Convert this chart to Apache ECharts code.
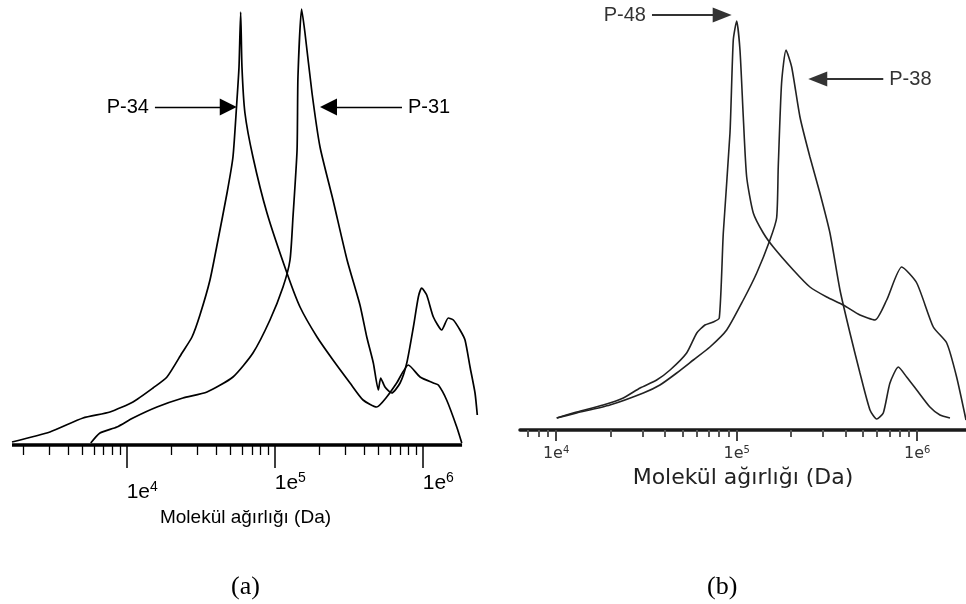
<!DOCTYPE html>
<html><head><meta charset="utf-8">
<script src="https://cdn.jsdelivr.net/npm/echarts@6/dist/echarts.min.js"></script>
<style>html,body{margin:0;padding:0;background:#fff}#c{width:966px;height:604px}</style>
</head><body><div id="c"></div>
<script>
// ---------- Panel (a) data: molecular weight (Da) vs detector signal (a.u.) ----------
const mwP34  = [1680,3030,5070,7710,11030,15060,18720,23650,27620,31260,36540,41400,47640,52250,55600,57400,58900,60100,62950,71300,88700,121000,148300,193200,247700,322800,395400,488300,571000,666800,799400,959800,1180000,1275000,1451000,1698000,1836000];
const sigP34 = [3,13,27,33,43,57,68,92,108,130,165,205,252,288,345,378,433,378,332,288,232,172,138,108,85,62,45,38,48,62,80,68,62,60,45,18,2];
const mwP31  = [5720,6600,8590,11030,16020,23990,34880,52250,71300,92900,113800,126900,132900,141600,143600,152000,160200,178700,202400,247700,308300,376700,418800,463800,501200,520000,556000,617600,703100,780400,864800,934100,984000,1064000,1180000,1344000,1488000,1610000,1786000,1931000,2088000,2256000,2337000];
const sigP31 = [2,12,18,27,38,47,53,68,92,125,158,185,228,295,368,436,412,352,298,245,185,140,108,82,55,67,58,52,62,82,118,148,157,150,128,115,127,125,115,105,78,52,30];
// ---------- Panel (b) data ----------
const mwP48  = [10080,13000,18240,23550,29170,36060,42770,52830,60130,66700,74130,80100,84310,91820,95760,100000,104300,108800,113600,123600,140400,159500,205800,254500,315100,389400,481600,583400,677300,820200,993400,1227000,1456000,1652000,1862000];
const sigP48 = [12,18,25,32,42,50,60,77,97,105,108,112,197,297,390,409,380,313,253,217,197,183,160,143,133,125,115,110,130,163,147,103,87,53,10];
const mwP38  = [10080,13000,19860,30410,37590,46550,57540,71100,88020,108800,129100,152800,166400,169900,177300,187600,201600,224100,254500,289000,328500,373300,424000,481600,547300,595700,648400,706000,785500,873700,993400,1175000,1336000,1518000];
const sigP38 = [12,17,25,37,45,57,70,83,100,130,157,190,212,263,347,380,363,313,273,237,197,140,97,57,20,11,17,47,63,53,40,23,15,12];
// ---------- Axes / ticks / labels ----------
const rangeA = [1680, 2400000];
const baselineA = [1680, 1844000];
const rangeB = [6310, 1862000];
const majorTicks = [10000, 100000, 1000000];
const minorTicksA = [2000,3000,4000,5000,6000,7000,8000,9000,20000,30000,40000,50000,60000,70000,80000,90000,200000,300000,400000,500000,600000,700000,800000,900000];
const minorTicksB = [7000,8000,9000,20000,30000,40000,50000,60000,70000,80000,90000,200000,300000,400000,500000,600000,700000,800000,900000];
const axisTitle = 'Molekül ağırlığı (Da)';
const captions = ['(a)', '(b)'];
const seriesNames = ['P-34', 'P-31', 'P-48', 'P-38'];
// arrow annotations: [from MW, to MW, signal level]
const arrowP34 = [15520, 48550, 338];
const arrowP31 = [724400, 231000, 338];
const arrowP48 = [33960, 83120, 415];
const arrowP38 = [648400, 281200, 351];

const zip = (xs, ys) => xs.map((x, i) => [x, ys[i]]);
const SANS = "'Liberation Sans', Arial, sans-serif";
const expOf = v => (v < 100 ? Math.round(v) : Math.round(Math.log10(v)));

function arrowMark(a, label, color, lw, fs, ff, sym) {
  return {
    silent: true, animation: false,
    symbol: ['none', 'triangle'], symbolSize: sym,
    lineStyle: { type: 'solid', color: color, width: lw },
    label: { show: true, position: 'start', formatter: label, color: color, fontSize: fs, fontFamily: ff, distance: 6 },
    emphasis: { disabled: true },
    data: [[{ coord: [a[0], a[2]] }, { coord: [a[1], a[2]] }]]
  };
}

const chart = echarts.init(document.getElementById('c'), null, { renderer: 'canvas' });
chart.setOption({
  animation: false,
  backgroundColor: '#fff',
  title: [
    { text: captions[0], left: 226, top: 569, textStyle: { fontFamily: "'Liberation Serif', serif", fontSize: 26, fontWeight: 'normal', color: '#000' } },
    { text: captions[1], left: 702, top: 569, textStyle: { fontFamily: "'Liberation Serif', serif", fontSize: 26, fontWeight: 'normal', color: '#000' } }
  ],
  grid: [
    { left: 12, top: 5, width: 467, height: 440, outerBoundsMode: 'none' },
    { left: 520, top: 5, width: 446, height: 425, outerBoundsMode: 'none' }
  ],
  xAxis: [
    { gridIndex: 0, position: 'bottom', type: 'log', min: rangeA[0], max: rangeA[1], axisLine: { show: false }, splitLine: { show: false },
      axisTick: { show: true, customValues: minorTicksA, length: 10, lineStyle: { color: '#000', width: 1.3 } },
      axisLabel: { show: false } },
    { gridIndex: 0, position: 'bottom', type: 'log', min: rangeA[0], max: rangeA[1], axisLine: { show: false }, splitLine: { show: false },
      axisTick: { show: true, customValues: majorTicks, length: 23, lineStyle: { color: '#000', width: 1.5 } },
      axisLabel: { show: true, customValues: majorTicks, align: 'left', margin: 26,
        formatter: v => { const e = expOf(v); return e === 4 ? '{g| }\n{b|1e}{s|' + e + '}' : '{b|1e}{s|' + e + '}'; },
        rich: {
          g: { fontSize: 8, lineHeight: 9 },
          b: { fontSize: 21, fontFamily: SANS, color: '#000', lineHeight: 25 },
          s: { fontSize: 14, fontFamily: SANS, color: '#000', lineHeight: 14, verticalAlign: 'top' }
        } },
      name: axisTitle, nameLocation: 'middle', nameGap: 61,
      nameTextStyle: { fontSize: 19, fontFamily: SANS, color: '#000', padding: [0, 0, 0, 0] } },
    { gridIndex: 1, position: 'bottom', type: 'log', min: rangeB[0], max: rangeB[1], splitLine: { show: false },
      axisLine: { show: true, lineStyle: { color: '#1a1a1a', width: 3.5 } },
      axisTick: { show: true, customValues: minorTicksB, length: 7, lineStyle: { color: '#555', width: 2 } },
      axisLabel: { show: false } },
    { gridIndex: 1, position: 'bottom', type: 'log', min: rangeB[0], max: rangeB[1], axisLine: { show: false }, splitLine: { show: false },
      axisTick: { show: true, customValues: majorTicks, length: 11, lineStyle: { color: '#444', width: 2 } },
      axisLabel: { show: true, customValues: majorTicks, margin: 15,
        formatter: v => '{b|1e}{s|' + expOf(v) + '}',
        rich: {
          b: { fontSize: 16, fontFamily: "'DejaVu Sans', sans-serif", color: '#333', lineHeight: 18 },
          s: { fontSize: 10, fontFamily: "'DejaVu Sans', sans-serif", color: '#333', lineHeight: 10, verticalAlign: 'top' }
        } },
      name: axisTitle, nameLocation: 'middle', nameGap: 36,
      nameTextStyle: { fontSize: 22, fontFamily: "'DejaVu Sans', sans-serif", color: '#222' } }
  ],
  yAxis: [
    { gridIndex: 0, type: 'value', min: 0, max: 440, show: false },
    { gridIndex: 1, type: 'value', min: 0, max: 425, show: false }
  ],
  series: [
    { name: 'baseline', type: 'line', xAxisIndex: 0, yAxisIndex: 0, data: [[baselineA[0], 0], [baselineA[1], 0]],
      symbol: 'none', clip: false, silent: true, lineStyle: { color: '#000', width: 3.5 } },
    { name: seriesNames[0], type: 'line', xAxisIndex: 0, yAxisIndex: 0, data: zip(mwP34, sigP34), symbol: 'none', smooth: 0.2, clip: false,
      lineStyle: { color: '#000', width: 1.7 },
      markLine: arrowMark(arrowP34, 'P-34', '#000', 1.3, 20, SANS, [17, 17]) },
    { name: seriesNames[1], type: 'line', xAxisIndex: 0, yAxisIndex: 0, data: zip(mwP31, sigP31), symbol: 'none', smooth: 0.2, clip: false,
      lineStyle: { color: '#000', width: 1.7 },
      markLine: arrowMark(arrowP31, 'P-31', '#000', 1.3, 20, SANS, [17, 17]) },
    { name: seriesNames[2], type: 'line', xAxisIndex: 2, yAxisIndex: 1, data: zip(mwP48, sigP48), symbol: 'none', smooth: 0.2, clip: false,
      lineStyle: { color: '#222', width: 1.6 },
      markLine: arrowMark(arrowP48, 'P-48', '#333', 2.2, 20, SANS, [15, 19]) },
    { name: seriesNames[3], type: 'line', xAxisIndex: 2, yAxisIndex: 1, data: zip(mwP38, sigP38), symbol: 'none', smooth: 0.2, clip: false,
      lineStyle: { color: '#222', width: 1.6 },
      markLine: arrowMark(arrowP38, 'P-38', '#333', 2.2, 20, SANS, [15, 19]) }
  ]
});
</script></body></html>
